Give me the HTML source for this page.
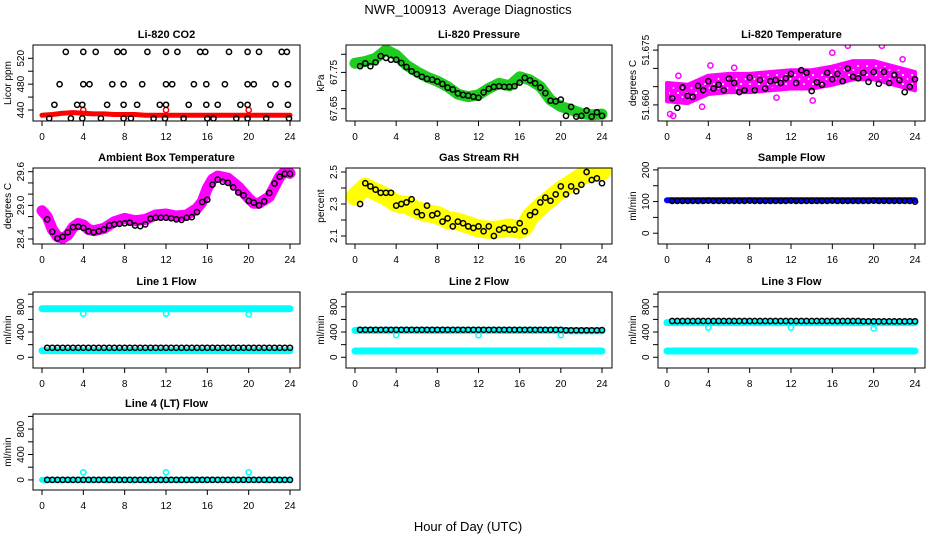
<!DOCTYPE html>
<html><head><meta charset="utf-8">
<style>
html,body{margin:0;padding:0;background:#fff;}
svg{display:block;font-family:"Liberation Sans",Arial,sans-serif;}
</style></head>
<body>
<svg id="chart" width="936" height="540" viewBox="0 0 936 540" xmlns="http://www.w3.org/2000/svg">
<rect x="0" y="0" width="936" height="540" fill="#fff"/>
<text x="468" y="14" font-size="13" text-anchor="middle">NWR_100913&#160; Average Diagnostics</text>
<text x="468" y="531" font-size="13" text-anchor="middle">Hour of Day (UTC)</text>
<defs>
<pattern id="speckle" width="9" height="9" patternUnits="userSpaceOnUse">
<rect width="9" height="9" fill="#ff00ff"/>
<circle cx="3" cy="3" r="1" fill="#fff"/>
<circle cx="7.5" cy="7" r="0.9" fill="#fff"/>
</pattern>
</defs>
<g id="plots"></g>
</svg>
<script>
// ---- shared hours ----
const HRS = [0.5,1,1.5,2,2.5,3,3.5,4,4.5,5,5.5,6,6.5,7,7.5,8,8.5,9,9.5,10,10.5,11,11.5,12,12.5,13,13.5,14,14.5,15,15.5,16,16.5,17,17.5,18,18.5,19,19.5,20,20.5,21,21.5,22,22.5,23,23.5,24];
const HOURLY = [0,1,2,3,4,5,6,7,8,9,10,11,12,13,14,15,16,17,18,19,20,21,22,23,24];
const XTICKS = [0,4,8,12,16,20,24];

// ---- CO2 ----
const co2BlackHrs = [2.3,4.0,5.2,7.3,7.9,10.2,12.0,13.1,15.3,15.8,18.1,19.9,21.0,23.2,23.7,
 1.7,4.0,4.6,6.8,7.9,9.7,12.0,12.6,14.7,15.9,17.7,19.9,20.5,22.6,23.8,
 1.2,3.4,3.9,6.3,7.9,9.2,11.4,12.0,14.2,15.9,17.0,19.2,19.9,22.1,23.8,
 0.7,2.8,3.9,5.7,7.9,8.6,10.8,11.9,13.7,16.0,16.6,18.8,19.9,21.7,23.9];
const co2BlackVals = [530,530,530,530,530,530,530,530,530,530,530,530,530,530,530,
 480,480,480,480,480,480,480,480,480,480,480,480,480,480,480,
 448,448,448,448,448,448,448,448,448,448,448,448,448,448,448,
 427,427,427,427,427,427,427,427,427,427,427,427,427,427,427];
const co2RedVals = [432,433,435,436,435,434,434,433,433,433,432,432,432,432,432,432,432,432,432,432,432,432,432,432,432];
const co2RedSpikeHrs = [4,12,20];
const co2RedSpikeVals = [440,440,440];

// ---- Pressure ----
const presGreen = [67.775,67.78,67.789,67.812,67.798,67.77,67.752,67.737,67.726,67.711,67.69,67.683,67.688,67.706,67.72,67.713,67.738,67.729,67.711,67.674,67.656,67.647,67.637,67.633,67.635];
const presBlack = [67.767,67.775,67.767,67.778,67.795,67.79,67.785,67.785,67.776,67.765,67.753,67.745,67.738,67.732,67.73,67.725,67.718,67.708,67.703,67.692,67.688,67.686,67.683,67.68,67.695,67.705,67.71,67.712,67.71,67.71,67.712,67.722,67.735,67.728,67.72,67.708,67.693,67.672,67.67,67.675,67.63,67.655,67.628,67.63,67.645,67.628,67.64,67.63];

// ---- Li-820 Temperature ----
const tempBandHrs = [0,2,4,6,8,10,12,14,16,18,20,22,24];
const tempUpper = [51.6660,51.6655,51.6680,51.6685,51.6685,51.6690,51.6695,51.6695,51.6705,51.6720,51.6720,51.6705,51.6690];
const tempLower = [51.6610,51.6605,51.6630,51.6635,51.6635,51.6640,51.6645,51.6645,51.6655,51.6670,51.6670,51.6655,51.6640];
const tempOutHrs = [0.3,0.6,3.4,14.1,4.2,20.8,17.5,16.0,6.5,10.6,22.8,1.1];
const tempOutVals = [51.6575,51.6570,51.6595,51.6612,51.6708,51.6762,51.6762,51.6743,51.6702,51.6620,51.6725,51.6680];
const tempBlack = [51.6618,51.6592,51.6648,51.6625,51.6622,51.6652,51.6640,51.6665,51.6645,51.6655,51.6640,51.6672,51.6660,51.6635,51.6640,51.6675,51.6640,51.6668,51.6645,51.6665,51.6668,51.6660,51.6673,51.6685,51.6660,51.6695,51.6688,51.6638,51.6662,51.6655,51.6688,51.6670,51.6685,51.6665,51.6700,51.6677,51.6673,51.6688,51.6663,51.6690,51.6658,51.6690,51.6660,51.6682,51.6668,51.6635,51.6650,51.6670];

// ---- Ambient box temperature ----
const ambHrs = [0,0.5,1,1.5,2,2.5,3,3.5,4,4.5,5,6,7,8,9,10,11,12,13,14,15,15.5,16,16.5,17,18,19,20,20.5,21,22,22.5,23,23.5,24];
const ambBand = [28.905,28.798,28.572,28.442,28.412,28.471,28.608,28.679,28.65,28.572,28.549,28.59,28.709,28.768,28.727,28.75,28.828,28.846,28.81,28.828,28.947,29.066,29.304,29.464,29.523,29.482,29.333,29.125,29.036,29.036,29.155,29.333,29.511,29.6,29.571];
const ambBlack = [28.75,28.53,28.41,28.44,28.52,28.61,28.62,28.6,28.54,28.52,28.54,28.57,28.64,28.66,28.67,28.68,28.69,28.64,28.63,28.66,28.76,28.78,28.78,28.78,28.77,28.75,28.74,28.78,28.79,28.88,29.06,29.10,29.37,29.46,29.42,29.40,29.32,29.23,29.18,29.08,29.05,29.00,29.07,29.22,29.39,29.51,29.56,29.56];

// ---- Gas stream RH ----
const rhHrs = [0,1,2,3,4,5,6,7,8,9,10,11,12,13,14,15,16,16.5,17,18,19,20,21,22,23,24];
const rhBand = [2.346,2.408,2.377,2.346,2.304,2.294,2.263,2.242,2.231,2.2,2.19,2.169,2.148,2.138,2.142,2.154,2.138,2.158,2.221,2.283,2.335,2.388,2.429,2.471,2.492,2.502];
const rhBlack = [2.30,2.43,2.41,2.39,2.37,2.37,2.37,2.29,2.30,2.31,2.33,2.25,2.23,2.29,2.23,2.24,2.19,2.21,2.16,2.19,2.18,2.16,2.15,2.16,2.13,2.16,2.10,2.14,2.15,2.14,2.14,2.18,2.13,2.23,2.25,2.31,2.34,2.32,2.36,2.41,2.36,2.41,2.38,2.42,2.50,2.45,2.46,2.43];

// ---- Sample flow ----
const sampleBlue = [104,104,104,104,104,104,104,104,104,104,104,104,104,104,104,104,104,104,104,104,104,104,104,104,104];
const sampleBlack = [102,102,102,102,102,102,102,103,102,102,102,102,102,102,102,103,102,102,102,102,102,102,102,103,102,102,102,102,102,102,102,103,102,102,102,102,102,102,102,103,102,102,102,102,102,102,102,100];

// ---- Line flows ----
const line1CyanHigh = [770,770,770,770,770,770,770,770,770,770,770,770,770,770,770,770,770,770,770,770,770,770,770,770,770];
const line1CyanLow = [105,105,105,105,105,105,105,105,105,105,105,105,105,105,105,105,105,105,105,105,105,105,105,105,105];
const line1DipHrs = [4,12,20];
const line1DipVals = [690,690,680];
const line1Black = [150,150,150,150,150,150,150,150,150,150,150,150,150,150,150,150,150,150,150,150,150,150,150,150,150,150,150,150,150,150,150,150,150,150,150,150,150,150,150,150,150,150,150,150,150,150,150,150];

const line2CyanHigh = [425,425,425,425,425,425,425,425,425,425,425,425,425,425,425,425,425,425,425,425,425,420,420,420,420];
const line2CyanLow = [100,100,100,100,100,100,100,100,100,100,100,100,100,100,100,100,100,100,100,100,100,100,100,100,100];
const line2DipHrs = [4,12,20];
const line2DipVals = [350,350,350];
const line2Black = [435,435,435,435,435,435,435,435,435,435,435,435,435,435,435,435,435,435,435,435,435,435,435,435,435,435,435,435,435,435,435,435,435,435,435,435,435,435,435,435,428,428,428,428,428,428,428,430];

const line3CyanHigh = [550,550,550,550,550,550,550,550,550,550,550,550,550,550,550,550,550,550,550,550,550,550,550,550,550];
const line3CyanLow = [100,100,100,100,100,100,100,100,100,100,100,100,100,100,100,100,100,100,100,100,100,100,100,100,100];
const line3DipHrs = [4,12,20];
const line3DipVals = [470,470,455];
const line3Black = [575,575,575,575,575,575,575,575,575,575,575,575,575,575,575,575,575,575,575,575,575,575,575,575,575,575,575,575,575,575,575,575,575,575,575,575,575,570,570,570,568,568,568,568,568,568,570,570];

const line4Cyan = [0,0,0,0,0,0,0,0,0,0,0,0,0,0,0,0,0,0,0,0,0,0,0,0,0];
const line4SpikeHrs = [4,12,20];
const line4SpikeVals = [120,120,120];
const line4Black = [0,0,0,0,0,0,0,0,0,0,0,0,0,0,0,0,0,0,0,0,0,0,0,0,0,0,0,0,0,0,0,0,0,0,0,0,0,0,0,0,0,0,0,0,0,0,0,0];

// ---- rendering ----
const NS = "http://www.w3.org/2000/svg";
const root = document.getElementById('plots');
const COLS = [[33,300],[346,612],[658,925]];
const ROWS = [45,168,292,414];
const BH = 76;

function mk(tag, attrs, parent) {
  const e = document.createElementNS(NS, tag);
  for (const k in attrs) e.setAttribute(k, attrs[k]);
  parent.appendChild(e);
  return e;
}

function panel(col, row, title, ylab, ymin, ymax, yticks, ylabels, name) {
  const x0 = COLS[col][0], x1 = COLS[col][1];
  const y0 = ROWS[row], y1 = y0 + BH;
  const g = mk('g', {}, root);
  
  
  const xs = h => x0 + 9 + h * (x1 - x0 - 19) / 24;
  const ys = v => y1 - (v - ymin) / (ymax - ymin) * (y1 - y0);
  const t = mk('text', {x: (x0 + x1) / 2, y: y0 - 7, 'font-size': 11, 'font-weight': 'bold', 'text-anchor': 'middle'}, g);
  t.textContent = title;
  
  
  XTICKS.forEach(h => {
    const x = xs(h);
    mk('line', {x1: x, x2: x, y1: y1, y2: y1 + 5, stroke: '#000'}, g);
    const tl = mk('text', {x: x, y: y1 + 19, 'font-size': 10, 'text-anchor': 'middle'}, g);
    tl.textContent = h;
    
    
  });
  yticks.forEach((v, i) => {
    const y = ys(v);
    mk('line', {x1: x0 - 5, x2: x0, y1: y, y2: y, stroke: '#000'}, g);
    if (ylabels[i] !== '') {
      const tl = mk('text', {x: x0 - 9, y: y, 'font-size': 10, 'text-anchor': 'middle', transform: 'rotate(-90 ' + (x0 - 9) + ' ' + y + ')'}, g);
      tl.textContent = ylabels[i];
      
      
    }
  });
  const yl = mk('text', {x: x0 - 22, y: (y0 + y1) / 2, 'font-size': 10, 'text-anchor': 'middle', transform: 'rotate(-90 ' + (x0 - 22) + ' ' + ((y0 + y1) / 2) + ')'}, g);
  yl.textContent = ylab;
  
  
  const clipId = 'clip' + col + row;
  const cp = mk('clipPath', {id: clipId}, g);
  mk('rect', {x: x0, y: y0, width: x1 - x0, height: y1 - y0}, cp);
  const data = mk('g', {'clip-path': 'url(#' + clipId + ')'}, g);
  const box = mk('rect', {x: x0, y: y0, width: x1 - x0, height: y1 - y0, fill: 'none', stroke: '#000', 'stroke-width': 1}, g);
  
  
  return {xs, ys, g: data};
}

function band(p, hrs, vals, color, width, name) {
  const pts = hrs.map((h, i) => p.xs(h).toFixed(1) + ',' + p.ys(vals[i]).toFixed(1)).join(' ');
  const l = mk('polyline', {points: pts, fill: 'none', stroke: color, 'stroke-width': width, 'stroke-linecap': 'round', 'stroke-linejoin': 'round'}, p.g);
  
  
}
function circles(p, hrs, vals, color, name, r) {
  hrs.forEach((h, i) => {
    const c = mk('circle', {cx: p.xs(h).toFixed(1), cy: p.ys(vals[i]).toFixed(1), r: r || 2.6, fill: 'none', stroke: color, 'stroke-width': 1.5}, p.g);
    
    
  });
}
function area(p, hrs, up, lo, fill, name) {
  const a = hrs.map((h, i) => p.xs(h).toFixed(1) + ',' + p.ys(up[i]).toFixed(1));
  const b = hrs.map((h, i) => p.xs(h).toFixed(1) + ',' + p.ys(lo[i]).toFixed(1)).reverse();
  const poly = mk('polygon', {points: a.concat(b).join(' '), fill: fill, stroke: '#ff00ff', 'stroke-width': 4, 'stroke-linejoin': 'round'}, p.g);
  
  
}

const FLOW_T = [0,200,400,600,800,1000];
const FLOW_L = ['0','','400','','800',''];

let p = panel(0, 0, 'Li-820 CO2', 'Licor ppm', 423, 540.6, [440,460,480,500,520], ['440','','480','','520'], 'co2');
band(p, HOURLY, co2RedVals, '#f00', 5, 'co2-red-series');
circles(p, co2RedSpikeHrs, co2RedSpikeVals, '#f00', 'co2-red-point');
circles(p, co2BlackHrs, co2BlackVals, '#000', 'co2-black-point');

p = panel(1, 0, 'Li-820 Pressure', 'kPa', 67.616, 67.8256, [67.65,67.70,67.75,67.80], ['67.65','','67.75',''], 'pressure');
band(p, HOURLY, presGreen, '#1fcc1f', 11, 'pressure-green-series');
circles(p, HRS, presBlack, '#000', 'pressure-black-point');

p = panel(2, 0, 'Li-820 Temperature', 'degrees C', 51.6556, 51.6764, [51.660,51.665,51.670,51.675], ['51.660','','','51.675'], 'li820-temp');
area(p, tempBandHrs, tempUpper, tempLower, 'url(#speckle)', 'temp-magenta-cloud');
circles(p, tempOutHrs, tempOutVals, '#ff00ff', 'temp-magenta-point');
circles(p, HRS, tempBlack, '#000', 'temp-black-point');

p = panel(0, 1, 'Ambient Box Temperature', 'degrees C', 28.311, 29.666, [28.4,28.6,28.8,29.0,29.2,29.4,29.6], ['28.4','','','29.0','','','29.6'], 'ambient-temp');
band(p, ambHrs, ambBand, '#ff00ff', 11, 'ambient-magenta-series');
circles(p, HRS, ambBlack, '#000', 'ambient-black-point');

p = panel(1, 1, 'Gas Stream RH', 'percent', 2.05, 2.525, [2.1,2.2,2.3,2.4,2.5], ['2.1','','2.3','','2.5'], 'rh');
band(p, rhHrs, rhBand, '#ffff00', 18, 'rh-yellow-series');
circles(p, HRS, rhBlack, '#000', 'rh-black-point');

p = panel(2, 1, 'Sample Flow', 'ml/min', -34, 206, [0,50,100,150,200], ['0','','100','','200'], 'sample-flow');
band(p, HOURLY, sampleBlue, '#0000ff', 6, 'sample-blue-series');
circles(p, HRS, sampleBlack, '#000', 'sample-black-point');

p = panel(0, 2, 'Line 1 Flow', 'ml/min', -170, 1034, FLOW_T, FLOW_L, 'line1-flow');
band(p, HOURLY, line1CyanHigh, '#00ffff', 7, 'line1-cyan-high');
band(p, HOURLY, line1CyanLow, '#00ffff', 7, 'line1-cyan-low');
circles(p, line1DipHrs, line1DipVals, '#00ffff', 'line1-cyan-dip');
circles(p, HRS, line1Black, '#000', 'line1-black-point');

p = panel(1, 2, 'Line 2 Flow', 'ml/min', -170, 1034, FLOW_T, FLOW_L, 'line2-flow');
band(p, HOURLY, line2CyanHigh, '#00ffff', 7, 'line2-cyan-high');
band(p, HOURLY, line2CyanLow, '#00ffff', 7, 'line2-cyan-low');
circles(p, line2DipHrs, line2DipVals, '#00ffff', 'line2-cyan-dip');
circles(p, HRS, line2Black, '#000', 'line2-black-point');

p = panel(2, 2, 'Line 3 Flow', 'ml/min', -170, 1034, FLOW_T, FLOW_L, 'line3-flow');
band(p, HOURLY, line3CyanHigh, '#00ffff', 7, 'line3-cyan-high');
band(p, HOURLY, line3CyanLow, '#00ffff', 7, 'line3-cyan-low');
circles(p, line3DipHrs, line3DipVals, '#00ffff', 'line3-cyan-dip');
circles(p, HRS, line3Black, '#000', 'line3-black-point');

p = panel(0, 3, 'Line 4 (LT) Flow', 'ml/min', -159, 1038, FLOW_T, FLOW_L, 'line4-flow');
band(p, HOURLY, line4Cyan, '#00ffff', 6, 'line4-cyan-series');
circles(p, line4SpikeHrs, line4SpikeVals, '#00ffff', 'line4-cyan-spike');
circles(p, HRS, line4Black, '#000', 'line4-black-point');
</script>
</body></html>
